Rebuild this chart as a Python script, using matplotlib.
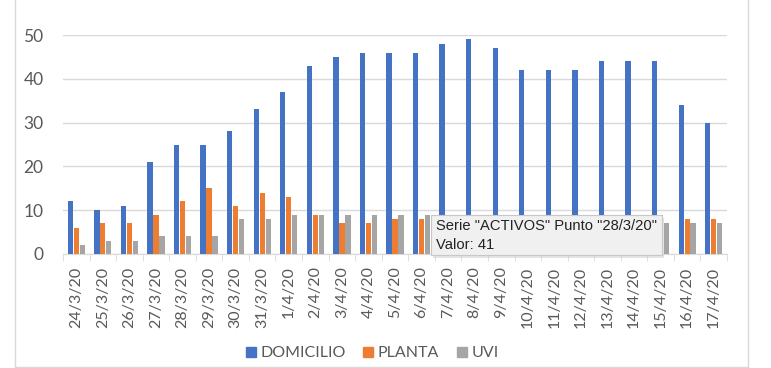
import matplotlib
matplotlib.use("Agg")
import matplotlib.pyplot as plt
import numpy as np
from matplotlib.lines import Line2D
from matplotlib.patches import Rectangle

dates = ["24/3/20", "25/3/20", "26/3/20", "27/3/20", "28/3/20", "29/3/20", "30/3/20",
         "31/3/20", "1/4/20", "2/4/20", "3/4/20", "4/4/20", "5/4/20", "6/4/20", "7/4/20",
         "8/4/20", "9/4/20", "10/4/20", "11/4/20", "12/4/20", "13/4/20", "14/4/20",
         "15/4/20", "16/4/20", "17/4/20"]
domicilio = [12, 10, 11, 21, 25, 25, 28, 33, 37, 43, 45, 46, 46, 46, 48, 49, 47, 42, 42, 42, 44, 44, 44, 34, 30]
planta = [6, 7, 7, 9, 12, 15, 11, 14, 13, 9, 7, 7, 8, 8, 9, 9, 9, 9, 9, 9, 9, 9, 9, 8, 8]
uvi = [2, 3, 3, 4, 4, 4, 8, 8, 9, 9, 9, 9, 9, 9, 9, 9, 9, 9, 9, 9, 9, 9, 7, 7, 7]
series_names = ["DOMICILIO", "PLANTA", "UVI"]
colors = ["#4472C4", "#ED7D31", "#A5A5A5"]
yticks = [0, 10, 20, 30, 40, 50]

W, H = 771, 368
fig = plt.figure(figsize=(W / 100, H / 100), dpi=100)
fig.patch.set_facecolor("white")
ax = fig.add_axes([63 / W, 1 - 254 / H, (727 - 63) / W, (254 - 35) / H])

x = np.arange(len(dates))
bw = 0.2
off = 0.225
for i, (vals, c, name) in enumerate(zip([domicilio, planta, uvi], colors, series_names)):
    ax.bar(x + (i - 1) * off, vals, width=bw, color=c, label=name, zorder=3)

ax.set_xlim(-0.5, len(dates) - 0.5)
ax.set_ylim(0, 50)
ax.set_yticks(yticks)
ax.yaxis.grid(True, color="#D9D9D9", linewidth=1, zorder=0)
for s in ["top", "right", "left"]:
    ax.spines[s].set_visible(False)
ax.spines["bottom"].set_color("#D9D9D9")
ax.tick_params(axis="y", length=0, labelsize=12.5, labelcolor="#595959", pad=14)
ax.set_xticks(x)
ax.set_xticklabels(dates, rotation=90, fontsize=11.5, color="#595959")
ax.set_xticks(np.arange(-0.5, len(dates), 1), minor=True)
ax.tick_params(axis="x", which="major", length=0, pad=9)
ax.tick_params(axis="x", which="minor", length=5, color="#D9D9D9")
for lab in ax.get_xticklabels() + ax.get_yticklabels():
    lab.set_fontfamily(["Lato", "DejaVu Sans"])

handles = [Line2D([], [], marker="s", linestyle="none", markersize=7, color=c) for c in colors]
leg = fig.legend(handles, series_names, loc="center", bbox_to_anchor=(370 / W, 1 - 353 / H),
                 ncol=3, frameon=False, handletextpad=0.0, columnspacing=0.8, handlelength=1.2,
                 prop={"family": ["Lato", "DejaVu Sans"], "size": 11.5})
for t in leg.get_texts():
    t.set_color("#595959")

# chart frame
fig.add_artist(Line2D([15 / W, 15 / W], [0, 1], color="#D9D9D9", linewidth=1))
fig.add_artist(Line2D([748 / W, 748 / W], [0, 1], color="#D9D9D9", linewidth=1))
fig.add_artist(Line2D([15 / W, 748 / W], [1 / H, 1 / H], color="#D9D9D9", linewidth=1))

# tooltip
tx0, ty0, tx1, ty1 = 431, 215, 662, 255
fig.add_artist(Rectangle(((tx0 + 2) / W, 1 - (ty1 + 3) / H), (tx1 - tx0) / W, (ty1 - ty0) / H,
                         facecolor="#CCCCCC", edgecolor="none", alpha=0.5, zorder=9))
fig.add_artist(Rectangle((tx0 / W, 1 - ty1 / H), (tx1 - tx0) / W, (ty1 - ty0) / H,
                         facecolor="#F0F0F0", edgecolor="#C8C8C8", linewidth=0.8, zorder=10))
fig.text((tx0 + 5) / W, 1 - 226 / H, 'Serie "ACTIVOS" Punto "28/3/20"', fontsize=10.6,
         family=["Liberation Sans", "DejaVu Sans"], color="#222222", va="center", zorder=11)
fig.text((tx0 + 5) / W, 1 - 245 / H, 'Valor: 41', fontsize=10.6,
         family=["Liberation Sans", "DejaVu Sans"], color="#222222", va="center", zorder=11)

fig.savefig("out.png", dpi=100)
